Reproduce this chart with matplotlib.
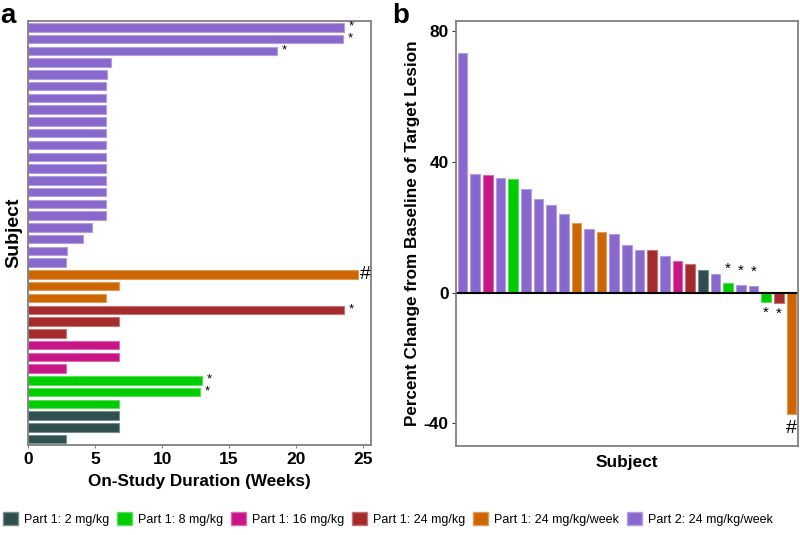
import numpy as np
import matplotlib
matplotlib.use('Agg')
import matplotlib.pyplot as plt
from matplotlib.patches import Patch
from matplotlib.colors import to_rgb

plt.rcParams['font.family'] = ['Liberation Sans', 'DejaVu Sans']
plt.rcParams['axes.unicode_minus'] = False

# Cohort names and colours
groups = ['Part 1: 2 mg/kg', 'Part 1: 8 mg/kg', 'Part 1: 16 mg/kg',
          'Part 1: 24 mg/kg', 'Part 1: 24 mg/kg/week', 'Part 2: 24 mg/kg/week']
colors = ['#2F4F4F', '#00CD00', '#C71585', '#A52A2A', '#CD6600', '#8968CD']

# Panel a: on-study duration (weeks), listed top to bottom
dur_group = [5] * 21 + [4] * 3 + [3] * 3 + [2] * 3 + [1] * 3 + [0] * 3
dur_weeks = [23.6, 23.5, 18.6, 6.2, 5.9,
             5.8, 5.8, 5.8, 5.8, 5.8, 5.8, 5.8, 5.8, 5.8, 5.8, 5.8, 5.8,
             4.8, 4.1, 2.9, 2.85,
             24.6, 6.8, 5.8,
             23.6, 6.8, 2.85,
             6.8, 6.8, 2.85,
             13.0, 12.8, 6.8,
             6.8, 6.8, 2.85]
dur_marks = ['*', '*', '*'] + [''] * 18 + ['#', '', ''] + ['*', '', ''] + \
    [''] * 3 + ['*', '*', ''] + [''] * 3

# Panel b: percent change from baseline of target lesion (waterfall)
chg_group = [5, 5, 2, 5, 1, 5, 5, 5, 5, 4, 5, 4, 5, 5, 5, 3, 5, 2, 3, 0,
             5, 1, 5, 5, 1, 3, 4]
chg_pct = [73.4, 36.3, 36.0, 35.0, 34.8, 31.6, 28.7, 26.9, 23.9, 21.2,
           19.6, 18.6, 17.9, 14.6, 13.1, 12.9, 11.1, 9.6, 8.6, 7.0,
           5.8, 3.0, 2.3, 2.0, -2.75, -3.2, -37.2]
chg_marks = [''] * 21 + ['*', '*', '*', '*', '*', '#']


def lighter(c, f=0.35):
    r, g, b = to_rgb(c)
    return (r + (1 - r) * f, g + (1 - g) * f, b + (1 - b) * f)


def style_spines(ax):
    for s in ax.spines.values():
        s.set_color('#808080')
        s.set_linewidth(1.3)


fig = plt.figure(figsize=(8, 5.35), dpi=100)

# ---- panel a ----
ax1 = fig.add_axes([0.035, 0.168, 0.429, 0.793])
n = len(dur_weeks)
ypos = np.arange(n)[::-1]
ax1.barh(ypos, dur_weeks, height=0.72,
         color=[colors[g] for g in dur_group],
         edgecolor=[lighter(colors[g]) for g in dur_group], linewidth=0.8)
for y, v, m in zip(ypos, dur_weeks, dur_marks):
    if m == '*':
        ax1.text(v + 0.35, y + 0.05, m, ha='left', va='center', fontsize=9.5)
    elif m == '#':
        ax1.text(v + 0.15, y, m, ha='left', va='center', fontsize=14)
ax1.set_xlim(0, 25.6)
ax1.set_ylim(-0.5, n - 0.45)
ax1.set_yticks([])
ax1.set_xticks([0, 5, 10, 15, 20, 25])
ax1.tick_params(axis='x', length=2, color='#808080', labelsize=12.5, pad=3)
for t in ax1.get_xticklabels():
    t.set_fontweight('bold')
ax1.set_xlabel('On-Study Duration (Weeks)', fontsize=12.3, fontweight='bold',
               labelpad=5)
ax1.set_ylabel('Subject', fontsize=14, fontweight='bold', labelpad=4)
style_spines(ax1)

# ---- panel b ----
ax2 = fig.add_axes([0.5696, 0.167, 0.428, 0.794])
xpos = np.arange(len(chg_pct))
ax2.bar(xpos, chg_pct, width=0.76,
        color=[colors[g] for g in chg_group],
        edgecolor=[lighter(colors[g]) for g in chg_group], linewidth=0.8)
ax2.axhline(0, color='black', linewidth=1.5)
for x, v, m in zip(xpos, chg_pct, chg_marks):
    if m == '*':
        yy = v + 4.3 if v > 0 else v - 3.3
        ax2.text(x, yy, m, ha='center', va='center', fontsize=11)
    elif m == '#':
        ax2.text(x, v - 4.3, m, ha='center', va='center', fontsize=14)
ax2.set_xlim(-0.54, len(chg_pct) - 0.47)
ax2.set_ylim(-46.8, 83.1)
ax2.set_xticks([])
ax2.set_yticks([-40, 0, 40, 80])
ax2.tick_params(axis='y', length=3, color='#333333', labelsize=12.5, pad=2)
for t in ax2.get_yticklabels():
    t.set_fontweight('bold')
ax2.set_xlabel('Subject', fontsize=12.4, fontweight='bold', labelpad=7)
ax2.set_ylabel('Percent Change from Baseline of Target Lesion', fontsize=12.3,
               fontweight='bold', labelpad=3)
style_spines(ax2)

# panel letters
fig.text(0.0, 0.994, 'a', fontsize=20, fontweight='bold', va='top')
fig.text(0.490, 0.994, 'b', fontsize=20, fontweight='bold', va='top')

# legend
handles = [Patch(facecolor=c, edgecolor=lighter(c), label=g)
           for g, c in zip(groups, colors)]
fig.legend(handles=handles, loc='lower left', bbox_to_anchor=(-0.01, -0.004),
           ncol=6, frameon=False, fontsize=9, handlelength=1.2,
           handleheight=1.2, handletextpad=0.5, columnspacing=0.6)

fig.savefig('out.png', dpi=100)
